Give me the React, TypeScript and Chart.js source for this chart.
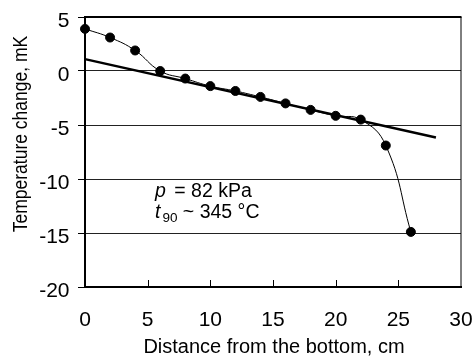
import React, { useEffect, useRef } from "react";
import { Chart, registerables } from "chart.js";

Chart.register(...registerables);

const distances = [0, 2, 4, 6, 8, 10, 12, 14, 16, 18, 20, 22, 24, 26];
const tempChange = [3.9, 3.1, 1.9, 0, -0.7, -1.4, -1.85, -2.4, -3.0, -3.6, -4.15, -4.5, -6.9, -14.9];
const fitX = [0, 28];
const fitY = [1.1, -6.15];
const xTicks = [0, 5, 10, 15, 20, 25, 30];
const yTicks = [5, 0, -5, -10, -15, -20];
const xTitle = "Distance from the bottom, cm";
const yTitle = "Temperature change, mK";
const annotationLine1 = ["p", " = 82 kPa"];
const annotationLine2 = ["t", "90", " ~ 345 °C"];

const FONT = "'Liberation Sans', Arial, sans-serif";

const framePlugin = {
  id: "frame",
  afterDraw(chart: any) {
    const { ctx, chartArea } = chart;
    const { left, right, top, bottom } = chartArea;
    const xs = chart.scales.x;
    const ys = chart.scales.y;
    ctx.save();
    ctx.strokeStyle = "#000";
    // inward x ticks
    ctx.lineWidth = 1;
    for (const t of xTicks) {
      if (t === 0 || t === 30) continue;
      const px = Math.round(xs.getPixelForValue(t)) + 0.5;
      ctx.beginPath();
      ctx.moveTo(px, bottom);
      ctx.lineTo(px, bottom - 7);
      ctx.stroke();
    }
    // right border thin
    ctx.beginPath();
    ctx.moveTo(right, top);
    ctx.lineTo(right, bottom);
    ctx.stroke();
    // top border thick
    ctx.lineWidth = 2;
    ctx.beginPath();
    ctx.moveTo(left - 1, top);
    ctx.lineTo(right + 0.5, top);
    ctx.stroke();

    ctx.fillStyle = "#000";
    // y tick labels
    ctx.font = `21px ${FONT}`;
    ctx.textAlign = "right";
    ctx.textBaseline = "alphabetic";
    for (const t of yTicks) {
      const py = ys.getPixelForValue(t);
      ctx.fillText(String(t), 69.5, py + 10);
    }
    // x tick labels
    ctx.textAlign = "center";
    for (const t of xTicks) {
      const px = xs.getPixelForValue(t);
      ctx.fillText(String(t), px, 326);
    }
    // x title
    ctx.font = `20px ${FONT}`;
    ctx.fillText(xTitle, (left + right) / 2 + 1, 353);
    // y title
    ctx.save();
    ctx.translate(27, 134);
    ctx.scale(1.15, 1);
    ctx.rotate(-Math.PI / 2);
    ctx.font = `17.5px ${FONT}`;
    ctx.textAlign = "center";
    ctx.fillText(yTitle, 0, 0);
    ctx.restore();

    // annotation
    ctx.textAlign = "left";
    let x = 155;
    ctx.font = `italic 19.5px ${FONT}`;
    ctx.fillText(annotationLine1[0], x, 197);
    x += ctx.measureText(annotationLine1[0]).width + 3;
    ctx.font = `19.5px ${FONT}`;
    ctx.fillText(annotationLine1[1], x, 197);
    x = 155;
    ctx.font = `italic 19.5px ${FONT}`;
    ctx.fillText(annotationLine2[0], x, 218);
    x += ctx.measureText(annotationLine2[0]).width + 2;
    ctx.font = `13.5px ${FONT}`;
    ctx.fillText(annotationLine2[1], x, 222);
    x += ctx.measureText(annotationLine2[1]).width;
    ctx.font = `19.5px ${FONT}`;
    ctx.fillText(annotationLine2[2], x, 218);
    ctx.restore();
  },
};

export default function App() {
  const ref = useRef<HTMLCanvasElement>(null);
  useEffect(() => {
    if (!ref.current) return;
    const chart = new Chart(ref.current, {
      type: "scatter",
      data: {
        datasets: [
          {
            label: "fit",
            data: fitX.map((x, i) => ({ x, y: fitY[i] })),
            showLine: true,
            borderColor: "#000",
            borderWidth: 2.5,
            pointRadius: 0,
            tension: 0,
            clip: false,
          },
          {
            label: "measured",
            data: distances.map((x, i) => ({ x, y: tempChange[i] })),
            showLine: true,
            borderColor: "#000",
            borderWidth: 1,
            backgroundColor: "#000",
            pointBackgroundColor: "#000",
            pointBorderColor: "#000",
            pointRadius: 4.5,
            tension: 0.45,
            clip: false,
          },
        ],
      },
      options: {
        animation: false,
        responsive: false,
        devicePixelRatio: 1,
        layout: { padding: { top: 17, right: 14, left: 0, bottom: 0 } },
        plugins: { legend: { display: false }, tooltip: { enabled: false } },
        scales: {
          x: {
            type: "linear",
            min: 0,
            max: 30,
            afterBuildTicks: (s: any) => {
              s.ticks = xTicks.map((v) => ({ value: v }));
            },
            afterFit: (s: any) => {
              s.height = 69;
            },
            grid: { display: false, drawTicks: false },
            border: { display: true, color: "#000", width: 2 },
            ticks: { display: false, padding: 0 },
            title: { display: false },
          },
          y: {
            type: "linear",
            min: -20,
            max: 5,
            afterBuildTicks: (s: any) => {
              s.ticks = yTicks.map((v) => ({ value: v }));
            },
            afterFit: (s: any) => {
              s.width = 85;
            },
            grid: {
              display: true,
              color: "#222",
              lineWidth: 1,
              drawTicks: true,
              tickLength: 7,
              tickColor: "#000",
            },
            border: { display: true, color: "#000", width: 2 },
            ticks: { display: false, padding: 0 },
            title: { display: false },
          },
        },
      },
      plugins: [framePlugin],
    });
    return () => chart.destroy();
  }, []);
  return (
    <div style={{ position: "absolute", left: 0, top: 0, width: 475, height: 356, background: "#fff" }}>
      <canvas ref={ref} width={475} height={356} />
    </div>
  );
}
